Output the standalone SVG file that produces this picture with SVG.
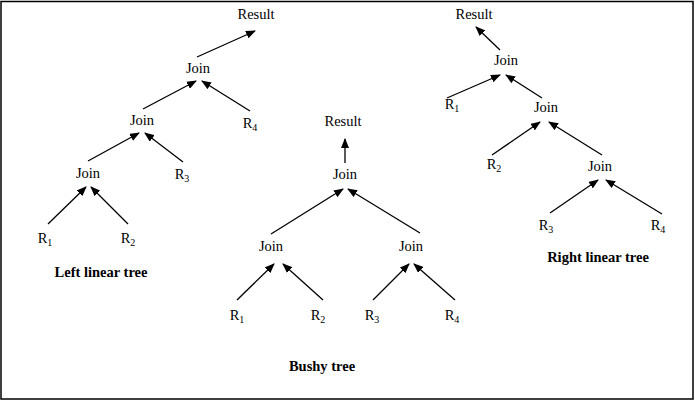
<svg xmlns="http://www.w3.org/2000/svg" width="695" height="401" viewBox="0 0 695 401">
<style>
text{font-family:"Liberation Serif","Times New Roman",serif;font-size:14.5px;fill:#000;text-anchor:middle}
.b{font-weight:bold;font-size:14.5px}
.s{font-size:10px}
line{stroke:#000;stroke-width:1.3}
</style>
<defs><marker id="a" markerWidth="10" markerHeight="8" refX="9" refY="4" orient="auto" markerUnits="userSpaceOnUse"><path d="M0,0L10,4L0,8z" fill="#000"/></marker></defs>
<rect x="1" y="1.5" width="692" height="397.5" fill="#fff" stroke="#000" stroke-width="1.5"/>
<g id="connectors" marker-end="url(#a)">
<line x1="197" y1="57" x2="255" y2="31"/>
<line x1="143" y1="109" x2="196" y2="81"/>
<line x1="250" y1="111" x2="202" y2="81"/>
<line x1="88" y1="161" x2="139" y2="133"/>
<line x1="183" y1="162" x2="145" y2="133"/>
<line x1="48" y1="224" x2="86" y2="187"/>
<line x1="128" y1="224" x2="91" y2="187"/>
<line x1="345" y1="163" x2="345" y2="139"/>
<line x1="271" y1="234" x2="343" y2="189"/>
<line x1="420" y1="233" x2="348" y2="189"/>
<line x1="237" y1="300" x2="274" y2="264"/>
<line x1="323" y1="300" x2="283" y2="264"/>
<line x1="373" y1="300" x2="409" y2="264"/>
<line x1="455" y1="300" x2="414" y2="264"/>
<line x1="500" y1="50" x2="476" y2="27"/>
<line x1="447" y1="98" x2="500" y2="75"/>
<line x1="542" y1="98" x2="506" y2="75"/>
<line x1="492" y1="155" x2="540" y2="122"/>
<line x1="602" y1="155" x2="549" y2="122"/>
<line x1="550" y1="213" x2="598" y2="180"/>
<line x1="662" y1="214" x2="606" y2="180"/>
</g>
<g id="left-tree">
<text x="256" y="19">Result</text>
<text x="198" y="73">Join</text>
<text x="142" y="125">Join</text>
<text x="250" y="128">R<tspan class="s" dy="3">4</tspan></text>
<text x="88" y="178">Join</text>
<text x="182" y="179">R<tspan class="s" dy="3">3</tspan></text>
<text x="45" y="243">R<tspan class="s" dy="3">1</tspan></text>
<text x="128" y="243">R<tspan class="s" dy="3">2</tspan></text>
<text class="b" x="101" y="277">Left linear tree</text>
</g>
<g id="bushy-tree">
<text x="343" y="126">Result</text>
<text x="345" y="179">Join</text>
<text x="271" y="251">Join</text>
<text x="411" y="251">Join</text>
<text x="237" y="320">R<tspan class="s" dy="3">1</tspan></text>
<text x="318" y="320">R<tspan class="s" dy="3">2</tspan></text>
<text x="372" y="320">R<tspan class="s" dy="3">3</tspan></text>
<text x="452" y="320">R<tspan class="s" dy="3">4</tspan></text>
<text class="b" x="322" y="371">Bushy tree</text>
</g>
<g id="right-tree">
<text x="474" y="19">Result</text>
<text x="506" y="65">Join</text>
<text x="452" y="109">R<tspan class="s" dy="3">1</tspan></text>
<text x="546" y="112">Join</text>
<text x="494" y="169">R<tspan class="s" dy="3">2</tspan></text>
<text x="600" y="171">Join</text>
<text x="546" y="230">R<tspan class="s" dy="3">3</tspan></text>
<text x="658" y="230">R<tspan class="s" dy="3">4</tspan></text>
<text class="b" x="598" y="262">Right linear tree</text>
</g>
</svg>
